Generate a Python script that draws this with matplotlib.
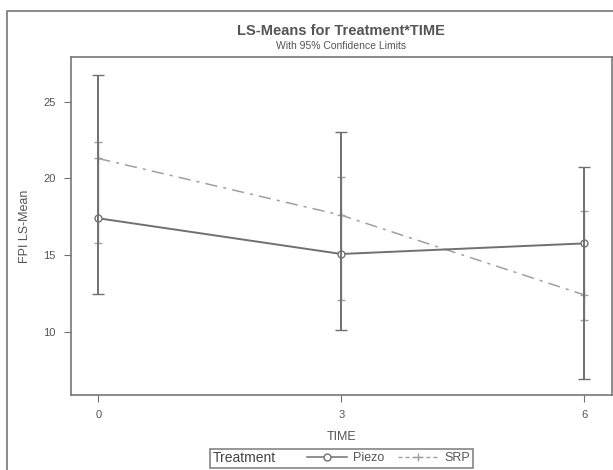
import matplotlib
matplotlib.use('Agg')
import matplotlib.pyplot as plt
from matplotlib.lines import Line2D
from matplotlib.patches import Rectangle
from matplotlib.offsetbox import HPacker

# Datos
time = [0, 3, 6]
piezo_mean = [17.4, 15.07, 15.76]
piezo_low = [12.44, 10.1, 6.9]
piezo_high = [26.76, 23.0, 20.76]
srp_mean = [21.3, 17.6, 12.4]
srp_low = [15.8, 12.06, 10.76]
srp_high = [22.4, 20.07, 17.87]

plt.rcParams['font.family'] = ['Liberation Sans', 'DejaVu Sans']

fig = plt.figure(figsize=(6.13, 4.70), dpi=100)
ax = fig.add_axes([0.1153, 0.1596, 0.8827, 0.7194])

gris = '#707070'
gris_claro = '#a0a0a0'
texto = '#555555'

# SRP
ax.plot(time, srp_mean, color=gris_claro, lw=1.1, ls=(0, (8, 4, 2, 4)), zorder=2)
ax.errorbar(time, srp_mean,
            yerr=[[m - l for m, l in zip(srp_mean, srp_low)],
                  [h - m for m, h in zip(srp_mean, srp_high)]],
            fmt='+', color=gris_claro, ms=6, capsize=3, elinewidth=1, zorder=2)

# Piezo
ax.plot(time, piezo_mean, color=gris, lw=1.4, marker='o', ms=5,
        mfc='white', mec=gris, zorder=3)
ax.errorbar(time, piezo_mean,
            yerr=[[m - l for m, l in zip(piezo_mean, piezo_low)],
                  [h - m for m, h in zip(piezo_mean, piezo_high)]],
            fmt='none', ecolor=gris, capsize=4, elinewidth=1.4, zorder=3)

ax.set_xlim(-0.34, 6.34)
ax.set_ylim(5.87, 27.93)
ax.set_xticks([0, 3, 6])
ax.set_yticks([10, 15, 20, 25])
ax.tick_params(colors=gris, labelcolor=texto, labelsize=8, length=5, pad=6)
for s in ax.spines.values():
    s.set_color('#777777')
    s.set_linewidth(1.2)

ax.set_xlabel('TIME', color=texto, fontsize=9, labelpad=8)
ax.set_ylabel('FPI LS-Mean', color=texto, fontsize=9, labelpad=9)

fig.text(0.556, 0.935, 'LS-Means for Treatment*TIME', ha='center', va='center',
         fontsize=10.5, fontweight='bold', color=texto)
fig.text(0.556, 0.903, 'With 95% Confidence Limits', ha='center', va='center',
         fontsize=7.5, color=texto)

# marco exterior
fig.patches.append(Rectangle((7 / 613, -0.01), 1.0, 1 - 11 / 470 + 0.01,
                             transform=fig.transFigure, fill=False,
                             ec='#777777', lw=1.2))

# leyenda con el titulo en la misma linea
handles = [Line2D([], [], color=gris, lw=1.1, marker='o', ms=5, mfc='white', mec=gris),
           Line2D([], [], color=gris_claro, lw=1, ls=(0, (3, 2)), marker='+', ms=6)]
leg = fig.legend(handles, ['Piezo', 'SRP'], title='Treatment', ncol=2,
                 loc='center', bbox_to_anchor=(0.557, 0.0245), frameon=True,
                 fontsize=9, title_fontsize=10, handlelength=3.2,
                 borderpad=0.2, columnspacing=1.1, handletextpad=0.5,
                 fancybox=False, edgecolor='#666666')
leg.get_frame().set_linewidth(1.2)
hijos = leg._legend_box.get_children()
leg._legend_box = HPacker(pad=2, sep=22, align='center', children=hijos)
leg._legend_box.set_figure(fig)
leg._legend_box.set_offset(leg._findoffset)
for t in leg.get_texts():
    t.set_color(texto)
leg.get_title().set_color('#444444')

fig.savefig('out.png', dpi=100)
